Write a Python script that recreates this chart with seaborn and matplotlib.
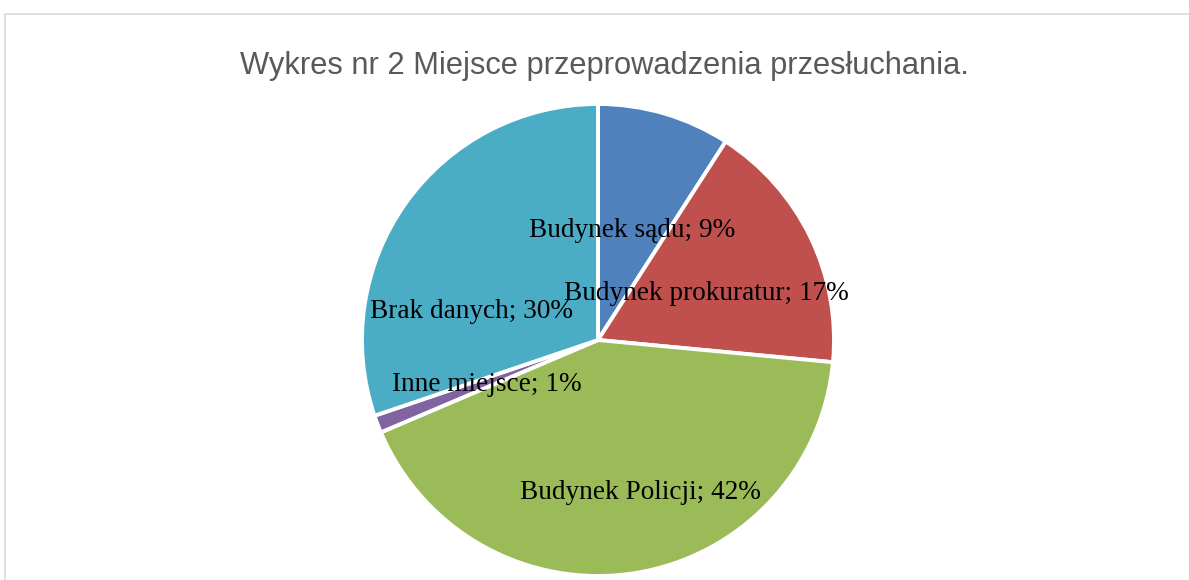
import matplotlib
matplotlib.use("Agg")
import matplotlib.pyplot as plt
from matplotlib.patches import Rectangle
import seaborn as sns

# ---- data ----
categories = ["Budynek sądu", "Budynek prokuratur", "Budynek Policji", "Inne miejsce", "Brak danych"]
shares = [9.1, 17.4, 42.1, 1.2, 30.2]
title = "Wykres nr 2 Miejsce przeprowadzenia przesłuchania."

# ---- style ----
sns.set_theme(style="white")
colors = sns.color_palette(["#4F81BD", "#C0504D", "#9BBB59", "#8064A2", "#4BACC6"])
label_pos = [(0.144, 0.465), (0.458, 0.195), (0.178, -0.648), (-0.470, -0.190), (-0.534, 0.120)]

W, H = 1189, 580
fig = plt.figure(figsize=(W / 100, H / 100), dpi=100)
fig.patch.set_facecolor("white")

# chart frame (extends beyond the right/bottom edges)
fig.add_artist(Rectangle((4.5 / W, -0.2), 1.5, 1.2 - 13.5 / H, transform=fig.transFigure,
                         fill=False, edgecolor="#D9D9D9", linewidth=1.2))

R = 236.0
cx, cy = 598.0, 340.0
half = 300.0
ax = fig.add_axes([(cx - half) / W, (H - (cy + half)) / H, 2 * half / W, 2 * half / H])
wedges, _ = ax.pie(shares, colors=colors, startangle=90, counterclock=False,
                   radius=1.0, wedgeprops=dict(edgecolor="white", linewidth=2.8))
lim = half / R
ax.set_xlim(-lim, lim)
ax.set_ylim(-lim, lim)
ax.set_aspect("equal")
ax.axis("off")

for cat, v, (x, y) in zip(categories, shares, label_pos):
    ax.text(x, y, f"{cat}; {round(v)}%", ha="center", va="center",
            fontsize=19.6, family="Liberation Serif", color="black")

fig.text(605 / W, 1 - 66 / H, title, ha="center", va="center",
         fontsize=22.2, family="Liberation Sans", color="#595959")

fig.savefig("out.png", dpi=100, facecolor="white")
